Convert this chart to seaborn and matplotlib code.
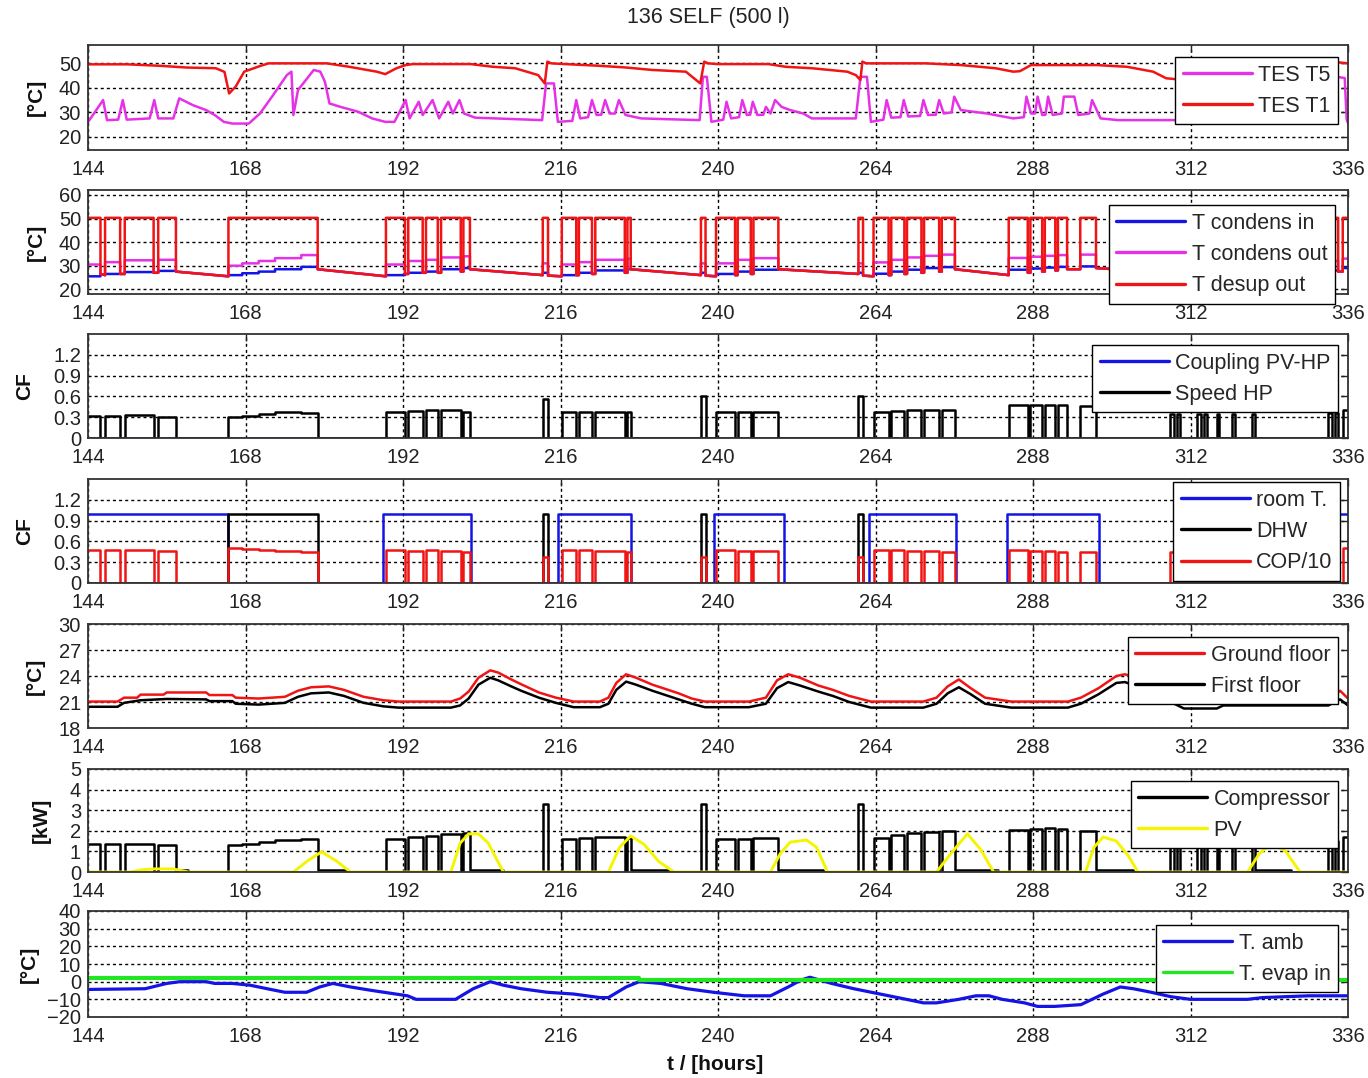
import numpy as np
import matplotlib
matplotlib.use("Agg")
import matplotlib.pyplot as plt
import seaborn as sns
from matplotlib import font_manager as fm

# ---------------------------------------------------------------- data
T0, T1 = 144.0, 336.0
HOUR_TICKS = [144, 168, 192, 216, 240, 264, 288, 312, 336]
TITLE = "136 SELF (500 l)"

# TES temperatures (panel 1)
T5_T = [144, 146.3, 146.9, 148.6, 149.3, 149.9, 153.4, 154.1, 154.7, 157.0, 157.9, 160.0, 162.0, 163.3,
        164.7, 166.0, 168.5, 170.2, 172.2, 174.3, 175.0, 175.3, 176.0, 177.0, 178.4, 179.4, 180.1, 180.8,
        182.5, 185.2, 187.3, 189.3, 190.7, 192.4, 193.0, 194.4, 195.0, 196.5, 197.5, 198.9, 199.6, 200.6,
        201.3, 203.0, 206.0, 213.2, 213.8, 215.0, 215.6, 217.8, 218.4, 219.0, 220.2, 220.8, 221.5, 222.2,
        222.8, 223.5, 224.3, 224.9, 225.9, 228.3, 237.2, 237.7, 238.3, 239.0, 240.8, 241.3, 242.0, 243.2,
        243.7, 244.4, 244.9, 245.3, 246.0, 246.9, 247.3, 248.0, 248.7, 249.7, 251.0, 253.0, 254.3, 261.0,
        261.7, 262.7, 263.3, 265.2, 265.7, 266.4, 267.8, 268.3, 269.0, 270.8, 271.3, 272.0, 273.2, 273.7,
        274.4, 275.6, 276.0, 277.0, 281.0, 285.0, 286.6, 287.0, 287.7, 288.3, 288.7, 289.4, 289.9, 290.3,
        291.0, 292.4, 292.7, 294.3, 294.9, 296.6, 297.0, 298.3, 301.0, 308.3, 312.0, 320.0, 330.0, 334.3,
        335.5, 335.8, 336.0]
T5_V = [26.0, 35.0, 26.8, 27.0, 35.0, 27.0, 27.5, 35.0, 27.5, 27.5, 35.7, 32.9, 30.9, 28.9,
        26.1, 25.4, 25.4, 29.5, 37.0, 45.2, 46.6, 28.9, 39.1, 42.5, 47.3, 46.6, 42.5, 33.6,
        32.2, 30.2, 27.5, 26.1, 26.1, 35.0, 27.5, 34.3, 28.9, 35.0, 27.5, 34.3, 29.5, 35.0,
        29.5, 27.8, 27.5, 26.8, 41.8, 41.8, 26.1, 26.5, 35.0, 27.5, 28.0, 35.0, 28.9, 29.0,
        35.0, 29.5, 29.5, 35.0, 28.9, 27.5, 26.8, 44.5, 44.5, 26.1, 27.0, 34.3, 27.5, 28.0,
        35.0, 28.9, 29.0, 34.3, 28.9, 29.0, 32.2, 29.5, 35.0, 32.2, 30.9, 29.5, 27.5, 27.5,
        44.5, 44.5, 26.1, 27.0, 35.0, 27.8, 28.0, 35.0, 28.3, 28.5, 35.0, 28.9, 29.0, 35.0,
        29.5, 30.0, 36.4, 30.9, 29.5, 27.5, 28.0, 36.4, 29.5, 29.5, 36.4, 28.9, 29.0, 36.4,
        28.9, 29.5, 36.4, 36.4, 28.9, 29.5, 35.0, 27.5, 26.8, 26.8, 26.8, 27.5, 27.0, 44.5,
        44.0, 27.0, 25.5]
T1_T = [144, 150, 155, 159, 163.5, 164.8, 165.5, 166.5, 167.8, 170.2, 171.5, 180.4, 183.8, 188.0,
        189.3, 191.0, 192.4, 193.5, 202.3, 205.7, 209.1, 212.6, 213.6, 214.0, 214.6, 216.7, 222.0,
        226.0, 230.0, 235.1, 237.3, 237.9, 238.5, 240.0, 247.7, 250.3, 254.3, 259.7, 261.0, 261.7,
        262.0, 262.6, 271.7, 277.0, 282.3, 285.0, 286.0, 287.7, 297.7, 302.3, 306.3, 308.3, 312.0,
        320.0, 333.5, 334.2, 336.0]
T1_V = [49.6, 49.6, 49.0, 48.3, 48.0, 46.5, 37.7, 40.5, 46.6, 48.9, 50.0, 50.0, 48.6, 46.6,
        45.6, 48.0, 49.3, 49.7, 49.7, 48.6, 48.0, 45.2, 41.8, 50.7, 50.0, 49.7, 49.0,
        48.3, 47.3, 46.6, 41.8, 50.7, 50.0, 49.7, 49.7, 48.6, 48.0, 46.6, 45.2, 43.2,
        50.7, 50.0, 50.0, 49.3, 48.0, 46.6, 46.8, 49.3, 49.3, 48.6, 46.6, 43.9, 43.0,
        42.0, 40.5, 50.5, 50.0]

# heat-pump operating cycles (panels 2, 3, 4, 6)
ON_START = [144.0, 146.6, 149.6, 154.7,
            165.4, 167.5, 170.0, 172.5, 176.5,
            189.4, 192.8, 195.5, 197.8, 201.2,
            213.3, 216.2, 218.8, 221.3, 226.2,
            237.4, 239.7, 243.0, 245.4,
            261.4, 263.7, 266.4, 268.8, 271.4, 274.1,
            284.3, 287.6, 289.8, 291.8, 295.2,
            308.8, 310.0, 313.0, 314.0, 316.0, 318.3, 321.3,
            333.0, 334.0, 335.2]
ON_END = [145.9, 148.9, 154.0, 157.4,
          167.5, 170.0, 172.5, 176.5, 179.0,
          192.3, 195.0, 197.3, 200.8, 202.2,
          214.1, 218.4, 220.8, 225.8, 226.7,
          238.1, 242.6, 245.0, 249.2,
          262.1, 266.0, 268.4, 271.0, 273.7, 276.1,
          287.2, 289.4, 291.4, 293.2, 297.6,
          309.5, 310.4, 313.6, 314.5, 316.4, 318.8, 321.8,
          333.5, 334.5, 336.0]
ON_MODE = ["SH"] * 4 + ["DHW"] * 5 + ["SH"] * 5 + ["DHW"] + ["SH"] * 4 + ["DHW"] + ["SH"] * 3 + \
          ["DHW"] + ["SH"] * 5 + ["SH"] * 5 + ["SH"] * 7 + ["SH"] * 3
SPEED_HP = [0.32, 0.32, 0.33, 0.31,
            0.30, 0.32, 0.34, 0.37, 0.36,
            0.37, 0.39, 0.40, 0.41, 0.38,
            0.56, 0.38, 0.38, 0.38, 0.37,
            0.60, 0.38, 0.38, 0.38,
            0.60, 0.38, 0.39, 0.40, 0.41, 0.41,
            0.47, 0.47, 0.47, 0.47, 0.46,
            0.34, 0.34, 0.35, 0.35, 0.35, 0.35, 0.34,
            0.36, 0.36, 0.40]
COMPRESSOR = [1.35, 1.35, 1.38, 1.33,
              1.30, 1.38, 1.45, 1.55, 1.62,
              1.60, 1.70, 1.75, 1.85, 1.90,
              3.30, 1.60, 1.65, 1.70, 1.65,
              3.30, 1.60, 1.62, 1.65,
              3.30, 1.65, 1.80, 1.90, 1.95, 2.00,
              2.05, 2.10, 2.12, 2.10, 2.00,
              1.45, 1.45, 1.45, 1.45, 1.45, 1.45, 1.45,
              1.50, 1.50, 1.70]
COP10 = [0.48, 0.48, 0.47, 0.46,
         0.50, 0.49, 0.48, 0.46, 0.44,
         0.47, 0.46, 0.47, 0.46, 0.44,
         0.38, 0.47, 0.47, 0.46, 0.45,
         0.38, 0.47, 0.46, 0.46,
         0.38, 0.47, 0.47, 0.46, 0.46, 0.45,
         0.47, 0.46, 0.46, 0.45, 0.45,
         0.45, 0.45, 0.45, 0.45, 0.45, 0.45, 0.45,
         0.45, 0.45, 0.50]
DESUP_ON = 50.3
DESUP_PRE = [None, 26.0, 26.5, 27.0,
             25.5, None, None, None, None,
             25.5, 26.5, 27.0, 27.0, 27.5,
             26.0, 25.5, 26.0, 26.5, 27.0,
             26.0, 25.5, 26.0, 26.5,
             26.5, 25.5, 26.0, 26.5, 27.0, 27.5,
             26.0, 27.0, 27.5, 28.0, 28.5,
             27.0, 27.5, 27.5, 27.5, 27.5, 27.5, 27.5,
             27.0, 27.5, 27.5]
DESUP_POST = [26.5, 26.5, 27.0, 27.5,
              None, None, None, None, 28.5,
              26.5, 27.0, 27.0, 27.5, 28.5,
              25.8, 26.0, 26.5, 27.0, 28.5,
              25.8, 26.0, 26.5, 28.5,
              25.8, 26.0, 26.5, 27.0, 27.5, 28.5,
              27.0, 27.5, 28.0, 28.5, 29.0,
              27.5, 27.5, 27.5, 27.5, 27.5, 27.5, 27.5,
              27.5, 27.5, None]
COND_IN = [25.5, 26.5, 27.3, 27.8,
           26.0, 26.8, 27.5, 28.5, 29.5,
           26.0, 27.0, 27.5, 28.5, 29.0,
           27.0, 26.0, 27.0, 28.0, 28.5,
           27.0, 26.5, 27.5, 28.3,
           27.0, 26.6, 27.5, 28.3, 29.0, 29.4,
           28.3, 28.8, 29.2, 29.5, 29.7,
           28.0, 28.0, 28.0, 28.0, 28.0, 28.0, 28.0,
           28.0, 28.0, 29.0]
COND_OUT = [30.5, 31.5, 32.3, 32.5,
            30.0, 31.0, 32.0, 33.2, 34.5,
            30.5, 32.0, 32.5, 33.5, 34.0,
            31.0, 30.5, 31.5, 32.5, 33.0,
            31.0, 31.0, 32.5, 33.2,
            31.0, 31.4, 32.5, 33.5, 34.2, 34.7,
            33.3, 33.8, 34.2, 34.5, 34.7,
            32.0, 32.0, 32.0, 32.0, 32.0, 32.0, 32.0,
            32.0, 32.0, 33.0]

# compressor standby while PV produces
STBY_START = [157.4, 179.0, 202.2, 226.7, 249.2, 276.1, 297.6, 322.0]
STBY_END = [159.3, 183.3, 207.3, 232.7, 256.0, 282.7, 303.3, 327.3]
STBY_KW = [0.08, 0.08, 0.08, 0.08, 0.08, 0.08, 0.08, 0.08]

# coupling PV-HP
COUPLING_T = [144, 336]
COUPLING_V = [0.0, 0.0]

# operating mode space heating (room T.)
ROOM_START = [144.0, 189.0, 215.6, 239.4, 263.0, 284.0, 309.8, 332.8]
ROOM_END = [165.4, 202.3, 226.8, 250.0, 276.3, 298.1, 322.0, 336.0]
ROOM_FLAG = [1.0, 1.0, 1.0, 1.0, 1.0, 1.0, 1.0, 1.0]
DHW_FLAG = 1.0

# room temperatures (panel 5)
GROUND_T = [144, 148.5, 149.5, 151.5, 152, 155.5, 156, 162, 162.5, 166, 166.5, 170, 172, 174, 176, 178,
            180.7, 183, 186, 189, 191.3, 199.3, 200.7, 202, 203.5, 205.3, 206.5, 208.5, 210, 212.7,
            215.3, 218, 222, 223.3, 224.5, 226, 227.5, 230, 232, 234, 236, 238, 244.7, 247.3, 249,
            250.7, 252.5, 255.3, 257.5, 260, 263.3, 271.3, 273.3, 275, 276.7, 278.5, 280.7, 284.7,
            293.3, 295.3, 298, 300.7, 302, 305, 310, 316, 325, 333, 334.8, 336]
GROUND_V = [21.05, 21.05, 21.5, 21.5, 21.85, 21.85, 22.1, 22.1, 21.8, 21.8, 21.5, 21.4, 21.5, 21.6, 22.3, 22.7,
            22.8, 22.4, 21.6, 21.2, 21.05, 21.05, 21.4, 22.2, 23.8, 24.65, 24.4, 23.6, 23.05, 22.1,
            21.5, 21.05, 21.05, 21.5, 23.2, 24.2, 23.8, 23.0, 22.5, 22.0, 21.4, 21.05, 21.05, 21.5, 23.5,
            24.2, 23.8, 22.9, 22.4, 21.7, 21.05, 21.05, 21.5, 22.8, 23.6, 22.6, 21.5, 21.05,
            21.05, 21.5, 22.6, 24.0, 24.2, 23.5, 21.5, 21.1, 21.1, 21.3, 22.3, 21.4]
FIRST_T = [144, 148.5, 149.5, 152, 156, 162, 162.5, 166, 166.5, 170, 172, 174, 176, 178, 180.7, 183,
           186, 189, 191.3, 199.3, 200.7, 202, 203.5, 205.3, 206.5, 208.5, 210, 212.7, 215.3, 218,
           222, 223.3, 224.5, 226, 227.5, 230, 232, 234, 236, 238, 244.7, 247.3, 249, 250.7, 252.5,
           255.3, 257.5, 260, 263.3, 271.3, 273.3, 275, 276.7, 278.5, 280.7, 284.7, 293.3, 295.3,
           298, 300.7, 302, 305, 309, 311, 316, 317, 325, 333, 334.8, 336]
FIRST_V = [20.45, 20.45, 20.9, 21.2, 21.35, 21.3, 21.1, 21.1, 20.8, 20.7, 20.8, 20.9, 21.6, 22.0, 22.1, 21.7,
           20.9, 20.5, 20.35, 20.35, 20.6, 21.4, 23.0, 23.8, 23.5, 22.8, 22.3, 21.5, 20.9, 20.4,
           20.4, 20.8, 22.4, 23.35, 23.0, 22.3, 21.8, 21.3, 20.8, 20.4, 20.4, 20.8, 22.6, 23.3, 22.9,
           22.2, 21.7, 21.0, 20.35, 20.35, 20.8, 22.0, 22.7, 21.9, 20.8, 20.35, 20.35, 20.8,
           21.9, 23.2, 23.3, 22.5, 21.0, 20.25, 20.25, 20.6, 20.6, 20.6, 21.3, 20.6]

# PV production (panel 6)
PV_T = [144, 150.5, 152, 154, 157, 159.3, 175.3, 177.5, 179.6, 182, 184, 199.3, 200.7, 202, 203.5, 205,
        206.3, 207.3, 223.3, 225, 226.7, 228.7, 231, 233.3, 248, 249.5, 251, 253.5, 255, 256.7, 273.3,
        275.5, 278, 280, 282, 296, 297.3, 298.7, 300.7, 302.5, 304, 320.7, 322.5, 324.5, 326.5, 328.7, 336]
PV_V = [0, 0, 0.1, 0.15, 0.15, 0, 0, 0.55, 0.98, 0.5, 0, 0, 1.4, 1.85, 1.85, 1.4,
        0.6, 0, 0, 1.2, 1.75, 1.35, 0.5, 0, 0, 0.9, 1.45, 1.55, 1.2, 0, 0,
        0.9, 1.85, 1.1, 0, 0, 1.2, 1.7, 1.5, 0.8, 0, 0, 0.9, 1.4, 1.0, 0, 0]

# ambient / evaporator temperatures (panel 7)
TAMB_T = [144, 152.7, 156, 158, 162, 163.3, 166, 168.7, 171.3, 174, 177.3, 179.3, 181.3, 184, 187.3,
          192.7, 194, 200, 202.7, 205.3, 207.3, 210, 214, 218, 222, 223.3, 226, 228, 231.3, 235.3,
          239.3, 244, 248, 250.7, 252.7, 254, 257.3, 260.7, 264.7, 268.7, 271.3, 273.3, 276.7, 279.3,
          281.3, 283.3, 286.7, 288.7, 291.3, 295.3, 298.7, 301.3, 303.3, 306, 309, 312, 320.7, 323,
          330, 336]
TAMB_V = [-4.4, -4.0, -1.0, 0.0, 0.0, -1.0, -1.0, -2.0, -4.0, -6.0, -6.0, -3.0, -1.0, -3.0, -5.0,
          -8.0, -10.0, -10.0, -4.0, 0.0, -2.0, -4.0, -6.0, -7.0, -9.0, -9.0, -3.0, 0.0, -1.0, -4.0,
          -6.0, -8.0, -8.0, -3.0, 1.0, 2.5, -1.0, -4.0, -7.0, -10.0, -12.0, -12.0, -10.0, -8.0,
          -8.0, -10.0, -12.0, -14.0, -14.0, -13.0, -7.0, -3.0, -4.0, -6.0, -8.5, -10.0, -10.0, -9.0,
          -8.0, -8.0]
TEVAP_T = [144, 228.0, 228.0, 336]
TEVAP_V = [1.8, 1.8, 0.8, 0.8]

# ---------------------------------------------------------------- helpers
def on_off(starts, ends, levels):
    segs = sorted(zip(starts, ends, levels), key=lambda s: s[0])
    xs, ys = [], []
    if segs[0][0] > T0:
        xs.append(T0); ys.append(0.0)
    for k, (s, e, lv) in enumerate(segs):
        if k == 0:
            if s > T0:
                xs.append(s); ys.append(0.0)
        elif s > segs[k - 1][1] + 1e-9:
            xs.append(s); ys.append(0.0)
        xs += [s, e]; ys += [lv, lv]
        nxt = segs[k + 1][0] if k + 1 < len(segs) else None
        if (nxt is None and e < T1) or (nxt is not None and nxt > e + 1e-9):
            xs.append(e); ys.append(0.0)
    if segs[-1][1] < T1:
        xs.append(T1); ys.append(0.0)
    return xs, ys


def cond_path(levels):
    xs, ys = [], []
    for i in range(len(ON_START)):
        s, e = ON_START[i], ON_END[i]
        lv = levels[i] if isinstance(levels, list) else levels
        if DESUP_PRE[i] is not None:
            xs.append(s); ys.append(DESUP_PRE[i])
        xs += [s, e]; ys += [lv, lv]
        if DESUP_POST[i] is not None:
            xs.append(e); ys.append(DESUP_POST[i])
    return xs, ys


# ---------------------------------------------------------------- style
sns.set_theme(style="white")
names = {f.name for f in fm.fontManager.ttflist}
BASE = "Liberation Sans" if "Liberation Sans" in names else "DejaVu Sans"
NARROW = "Liberation Sans Narrow" if "Liberation Sans Narrow" in names else BASE
TICK_SIZE = 16.5 if NARROW != BASE else 14.5
plt.rcParams["font.family"] = [BASE, "DejaVu Sans"]

MAG = "#e632e6"
RED = "#f01414"
BLUE = "#1414e6"
BLACK = "#000000"
YEL = "#f5f500"
GRN = "#22e622"
LW = 1.8

W, H = 1368, 1078
fig = plt.figure(figsize=(W / 100, H / 100), dpi=100)
fig.patch.set_facecolor("white")

PANELS = [(45, 149.5), (190, 294), (334, 438), (479, 583), (624, 728), (769, 872), (911, 1017)]
axes = [fig.add_axes([88 / W, 1 - b / H, 1260 / W, (b - t) / H]) for t, b in PANELS]


def line(ax, x, y, color, label, lw=LW):
    sns.lineplot(x=np.asarray(x, float), y=np.asarray(y, float), ax=ax, color=color,
                 linewidth=lw, label=label, estimator=None, sort=False, errorbar=None)


# panel 1
ax = axes[0]
line(ax, T5_T, T5_V, MAG, "TES T5")
line(ax, T1_T, T1_V, RED, "TES T1")

# panel 2
ax = axes[1]
x, y = cond_path(COND_IN)
line(ax, x, y, BLUE, "T condens in")
x, y = cond_path(COND_OUT)
line(ax, x, y, MAG, "T condens out")
x, y = cond_path(DESUP_ON)
line(ax, x, y, RED, "T desup out")

# panel 3
ax = axes[2]
line(ax, COUPLING_T, COUPLING_V, BLUE, "Coupling PV-HP")
x, y = on_off(ON_START, ON_END, SPEED_HP)
line(ax, x, y, BLACK, "Speed HP")

# panel 4
ax = axes[3]
x, y = on_off(ROOM_START, ROOM_END, ROOM_FLAG)
line(ax, x, y, BLUE, "room T.")
dS = [s for s, m in zip(ON_START, ON_MODE) if m == "DHW"]
dE = [e for e, m in zip(ON_END, ON_MODE) if m == "DHW"]
x, y = on_off(dS, dE, [DHW_FLAG] * len(dS))
line(ax, x, y, BLACK, "DHW")
x, y = on_off(ON_START, ON_END, COP10)
line(ax, x, y, RED, "COP/10")

# panel 5
ax = axes[4]
line(ax, GROUND_T, GROUND_V, RED, "Ground floor")
line(ax, FIRST_T, FIRST_V, BLACK, "First floor")

# panel 6
ax = axes[5]
x, y = on_off(ON_START + STBY_START, ON_END + STBY_END, COMPRESSOR + STBY_KW)
line(ax, x, y, BLACK, "Compressor")
line(ax, PV_T, PV_V, YEL, "PV", lw=2.1)

# panel 7
ax = axes[6]
line(ax, TAMB_T, TAMB_V, BLUE, "T. amb", lw=2.3)
line(ax, TEVAP_T, TEVAP_V, GRN, "T. evap in", lw=3.0)

# ---------------------------------------------------------------- axes cosmetics
YLIMS = [(14.8, 57.5), (18, 62.1), (0, 1.5), (0, 1.5), (18, 30), (0, 5), (-20, 40)]
YTICKS = [[20, 30, 40, 50], [20, 30, 40, 50, 60], [0, 0.3, 0.6, 0.9, 1.2], [0, 0.3, 0.6, 0.9, 1.2],
          [18, 21, 24, 27, 30], [0, 1, 2, 3, 4, 5], [-20, -10, 0, 10, 20, 30, 40]]
YTICKLABELS = [None, None, ["0", "0.3", "0.6", "0.9", "1.2"], ["0", "0.3", "0.6", "0.9", "1.2"],
               None, None, None]
YLABELS = ["[°C]", "[°C]", "CF", "CF", "[°C]", "[kW]", "[°C]"]
YLABEL_RIGHT = [46, 46, 34, 34, 45, 51, 39]
LEGEND_BOX = [(1338, 57), (1335, 205), (1338, 345), (1340, 482), (1338, 637), (1338, 781), (1338, 925)]

for i, ax in enumerate(axes):
    ax.set_xlim(T0, T1)
    ax.set_ylim(*YLIMS[i])
    ax.set_xticks(HOUR_TICKS)
    ax.set_xticklabels([str(h) for h in HOUR_TICKS])
    ax.set_yticks(YTICKS[i])
    if YTICKLABELS[i] is not None:
        ax.set_yticklabels(YTICKLABELS[i])
    ax.set_xlabel("")
    ax.set_ylabel(YLABELS[i], fontsize=15, fontweight="bold", color="#111111")
    ax.yaxis.set_label_coords((YLABEL_RIGHT[i] - 88) / 1260, 0.5)
    ax.grid(True, color="black", linestyle=(0, (2.2, 2.2)), linewidth=1.0, alpha=1)
    ax.set_axisbelow(True)
    ax.set_facecolor("white")
    for sp in ax.spines.values():
        sp.set_visible(True)
        sp.set_color("#333333")
        sp.set_linewidth(1.3)
    ax.tick_params(axis="both", direction="in", length=5, width=1.0, top=True, right=True,
                   labelsize=TICK_SIZE, colors="#222222", labelfontfamily=NARROW)
    ax.tick_params(axis="x", pad=7.5)
    ax.tick_params(axis="y", pad=5)
    r, t = LEGEND_BOX[i]
    leg = ax.legend(loc="upper right", bbox_to_anchor=(r / W, 1 - t / H), bbox_transform=fig.transFigure,
                    frameon=True, fancybox=False, framealpha=1, edgecolor="black", fontsize=15.5,
                    handlelength=3.2, handletextpad=0.3, borderpad=0.35, labelspacing=0.48,
                    borderaxespad=0)
    leg.get_frame().set_linewidth(1.0)
    for h in leg.get_lines():
        h.set_linewidth(2.4)

fig.text(708 / W, 1 - 18 / H, TITLE, ha="center", va="center", fontsize=15.5, color="#222222")
fig.text(715 / W, 1 - 1065 / H, "t / [hours]", ha="center", va="center", fontsize=15,
         fontweight="bold", color="#111111")

fig.savefig("out.png", dpi=100, facecolor="white")
